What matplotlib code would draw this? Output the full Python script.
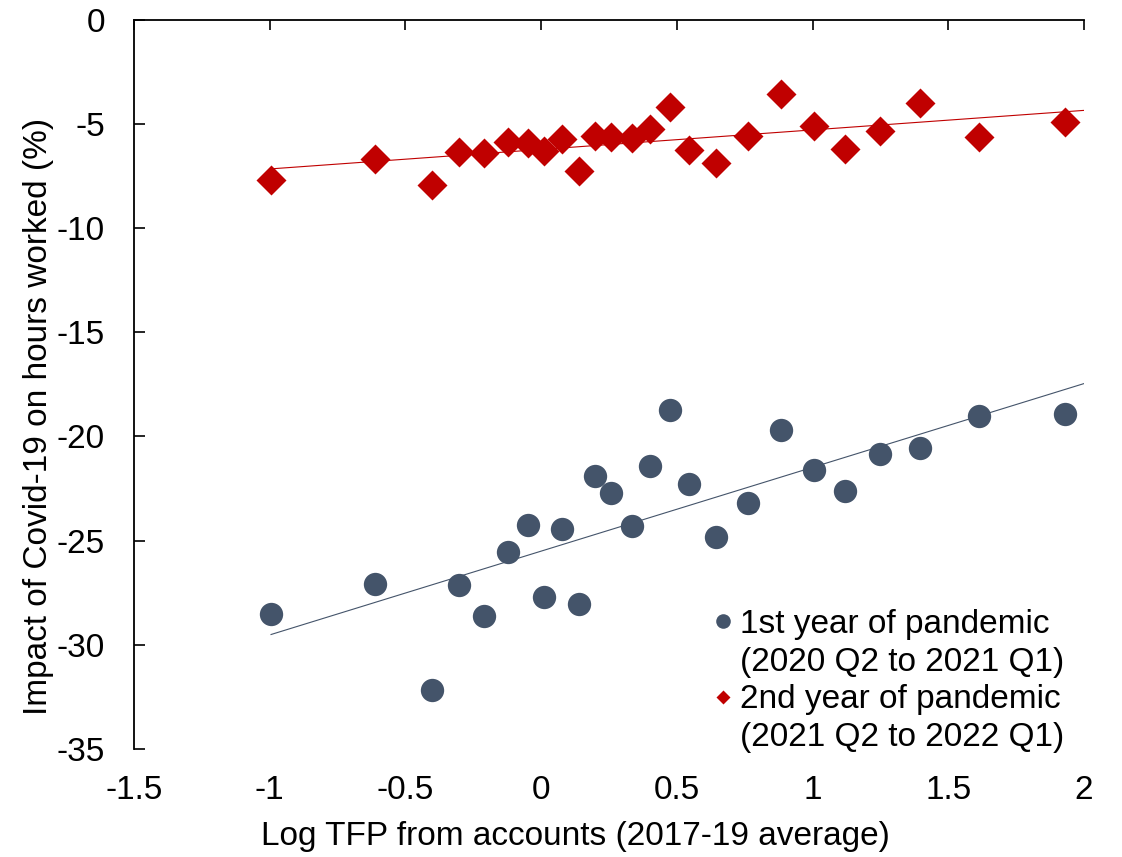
import numpy as np
import matplotlib.pyplot as plt
from matplotlib.lines import Line2D

plt.rcParams['font.family'] = ['Liberation Sans', 'DejaVu Sans']
plt.rcParams['axes.unicode_minus'] = False

# log TFP (2017-19 average), same industries in both years
log_tfp = [-0.995, -0.612, -0.402, -0.302, -0.211, -0.121, -0.050, 0.012, 0.076, 0.140,
           0.198, 0.259, 0.336, 0.402, 0.476, 0.544, 0.646, 0.763, 0.884, 1.004,
           1.120, 1.249, 1.397, 1.614, 1.931]

# impact on hours worked, %
year1 = [-28.53, -27.07, -32.17, -27.14, -28.62, -25.53, -24.24, -27.70, -24.42, -28.02,
         -21.88, -22.71, -24.29, -21.40, -18.73, -22.29, -24.81, -23.20, -19.70, -21.62,
         -22.60, -20.84, -20.54, -19.03, -18.94]
year2 = [-7.70, -6.71, -7.94, -6.34, -6.39, -5.89, -5.91, -6.31, -5.75, -7.27,
         -5.59, -5.62, -5.67, -5.27, -4.20, -6.26, -6.90, -5.59, -3.56, -5.12,
         -6.23, -5.35, -3.99, -5.64, -4.90]

# legend lines (second line of each entry has no marker)
legend_lines = ['1st year of pandemic', '(2020 Q2 to 2021 Q1)',
                '2nd year of pandemic', '(2021 Q2 to 2022 Q1)']
blue = '#44546A'
red = '#C00000'
fs = 24

x = np.array(log_tfp)

fig = plt.figure(figsize=(11.22, 8.57), dpi=100)
ax = fig.add_axes([0.1194, 0.126, 0.8467, 0.8512])

ax.plot(x, year1, 'o', color=blue, ms=16.8, mec='none', zorder=3)
ax.plot(x, year2, 'D', color=red, ms=15.5, mec='none', zorder=3)

# linear trend lines, extended to the right edge
xl = np.array([x.min(), 2.0])
for y, c in [(year1, blue), (year2, red)]:
    b, a = np.polyfit(x, y, 1)
    ax.plot(xl, a + b * xl, color=c, lw=0.8, zorder=2)

ax.set_xlim(-1.5, 2)
ax.set_ylim(-35, 0)
ax.set_xticks(np.arange(-1.5, 2.01, 0.5))
ax.set_xticklabels(['-1.5', '-1', '-0.5', '0', '0.5', '1', '1.5', '2'])
ax.set_yticks(np.arange(-35, 1, 5))

ax.spines['bottom'].set_visible(False)
ax.spines['right'].set_visible(False)
for s in ['top', 'left']:
    ax.spines[s].set_linewidth(1.3)

ax.tick_params(axis='x', bottom=False, labelbottom=True, top=True, direction='in',
               length=7.5, width=1.2, pad=19, labelsize=fs)
ax.tick_params(axis='y', direction='in', length=8, width=1.2, pad=21, labelsize=fs)

ax.set_xlabel('Log TFP from accounts (2017-19 average)', fontsize=fs)
ax.xaxis.set_label_coords(0.4647, -0.099)
ax.set_ylabel('Impact of Covid-19 on hours worked (%)', fontsize=fs)
ax.yaxis.set_label_coords(-0.084, 0.456)

blank = Line2D([], [], ls='none', marker='None')
handles = [Line2D([], [], ls='none', marker='o', color=blue, ms=10.5, mec='none'), blank,
           Line2D([], [], ls='none', marker='D', color=red, ms=7.5, mec='none'), blank]
ax.legend(handles, legend_lines, loc='upper left', bbox_to_anchor=(715 / 1122, 1 - 609 / 857),
          bbox_transform=fig.transFigure, frameon=False, fontsize=fs,
          handlelength=0.5, handletextpad=0.25, borderpad=0, borderaxespad=0,
          labelspacing=0.2)

fig.savefig('out.png', dpi=100)
